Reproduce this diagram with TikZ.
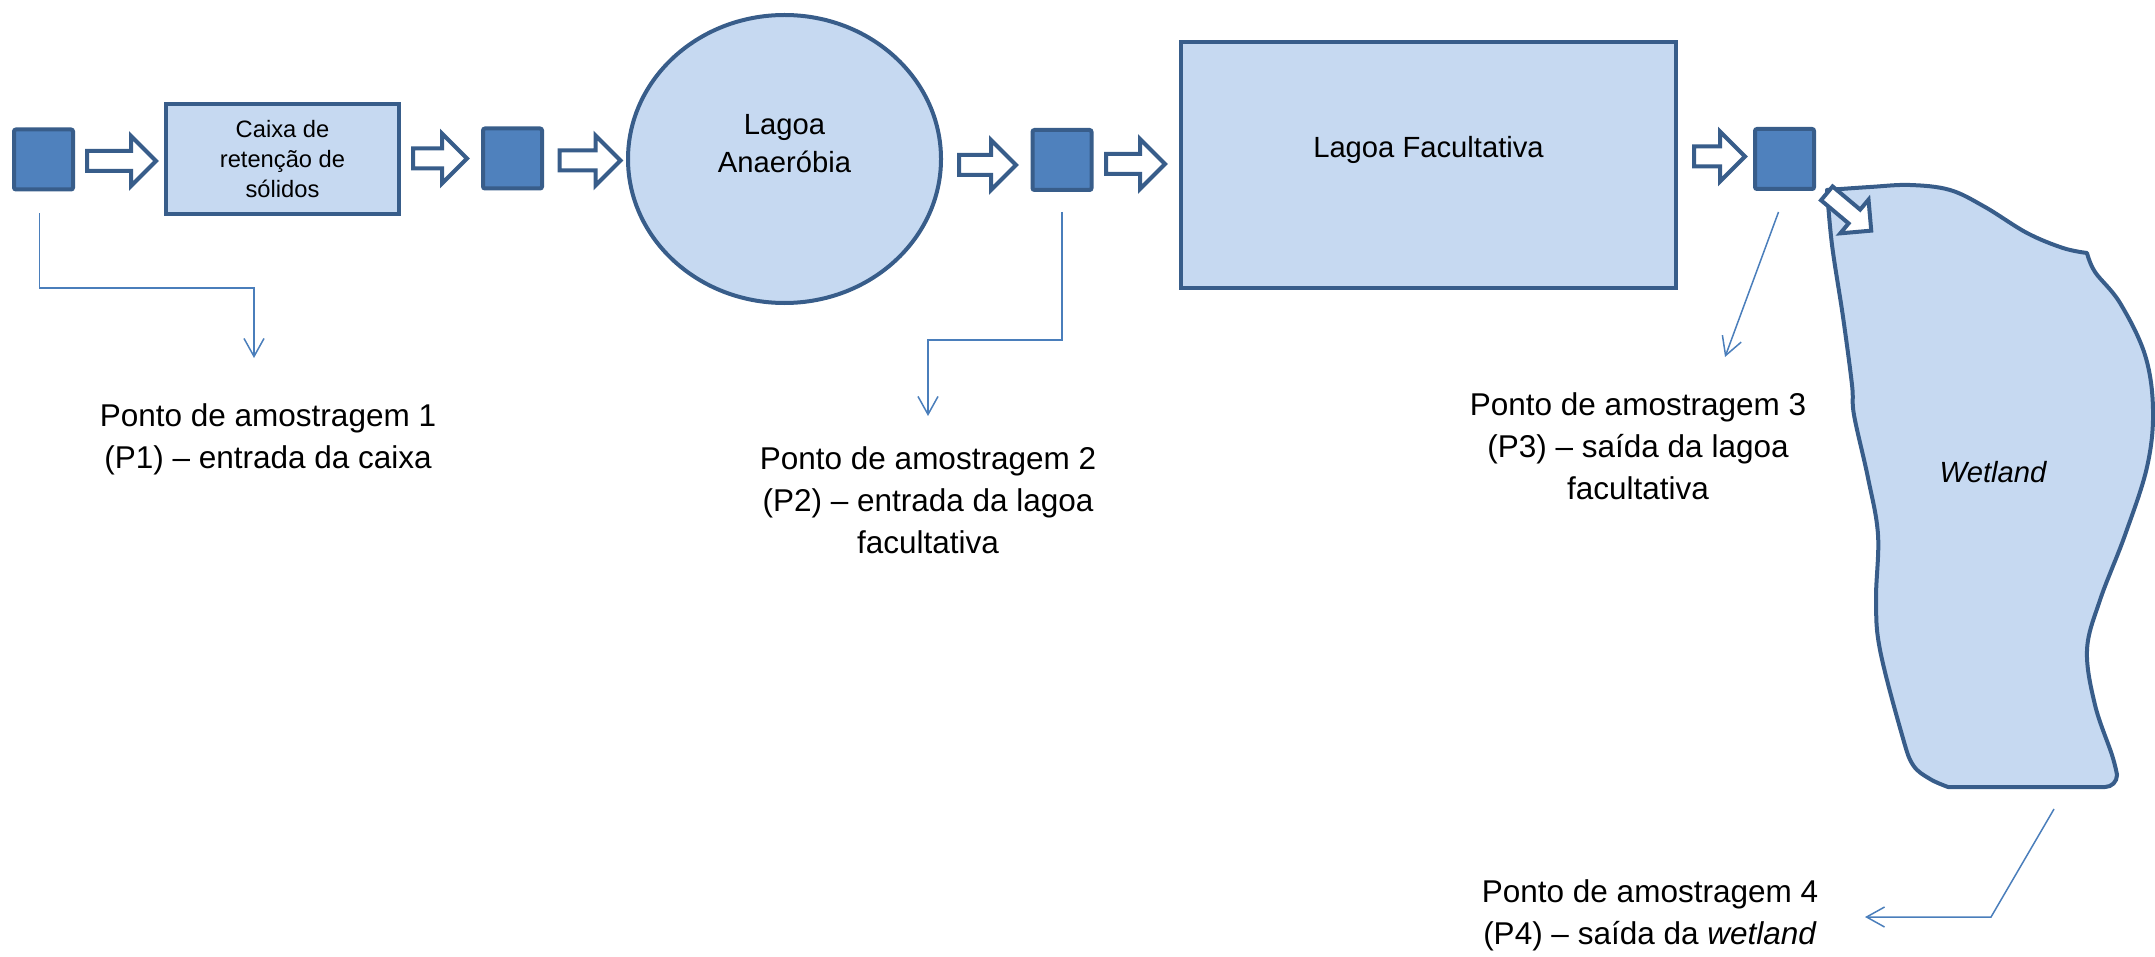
\documentclass[tikz,border=0pt]{standalone}
\usepackage{fontspec}
\setmainfont{Liberation Sans}
\usetikzlibrary{shapes.geometric,arrows.meta}
\definecolor{bordercol}{RGB}{56,93,138}
\definecolor{pointcol}{RGB}{79,129,189}
\definecolor{unitcol}{RGB}{198,217,241}
\definecolor{linecol}{RGB}{74,126,187}
\newcommand{\samplefont}{\fontsize{15.75pt}{21pt}\selectfont}
\newcommand{\pondfont}{\fontsize{14.6pt}{19pt}\selectfont}
\newcommand{\caixafont}{\fontsize{11.85pt}{15pt}\selectfont}
\tikzset{
	pointbox/.style={draw=bordercol, fill=pointcol, line width=2pt, minimum width=29.5pt, minimum height=30pt, rounded corners=1pt, inner sep=0pt},
	unitbox/.style={draw=bordercol, fill=unitcol, line width=2pt, inner sep=0pt},
	arrowline/.style={draw=bordercol, fill=white, line width=2pt},
	pics/flowarrow/.style={code={
		\draw [arrowline] ({-#1/2+2},-10) -- ({#1/2-27},-10) -- ({#1/2-27},-25) -- ({#1/2-2},0)
			-- ({#1/2-27},25) -- ({#1/2-27},10) -- ({-#1/2+2},10) -- cycle;
	}},
	pics/smallarrow/.style={code={
		\draw [arrowline] ({-#1/2+2},-9) -- ({#1/2-24},-9) -- ({#1/2-24},-22) -- ({#1/2-2},0)
			-- ({#1/2-24},22) -- ({#1/2-24},9) -- ({-#1/2+2},9) -- cycle;
	}},
	sample/.style={draw=linecol, line width=0.75pt, -{Straight Barb[length=9pt,width=10pt]}},
	samplelabel/.style={align=center, font=\samplefont}
}

\begin{document}
\begin{tikzpicture}[x=0.5pt,y=-0.5pt]
	\useasboundingbox (0,0) rectangle (2155,957);

	% wetland
	\filldraw [draw=bordercol, fill=unitcol, line width=2pt, line join=round]
		plot [smooth, tension=0.6] coordinates {(1827,190) (1870,187) (1910,185) (1950,190) (1985,207) (2027,233) (2063,248) (2087,253)}
		-- plot [smooth, tension=0.6] coordinates {(2087,253) (2095,272) (2120,303) (2145,355) (2153,410) (2147,467) (2125,535) (2100,600) (2087,650) (2095,705) (2112,755) (2117,775)}
		to [out=90+180, in=0] (2105,787) -- (1948,787)
		-- plot [smooth, tension=0.6] coordinates {(1948,787) (1930,779) (1913,765) (1902,735) (1880,650) (1876,600) (1878,535) (1868,478) (1854,415) (1852,385) (1843,317) (1832,245) (1827,190)}
		-- cycle;
	\node [font=\pondfont\itshape] (wetland) at (1993,472) {Wetland};

	% units
	\node [pointbox] (p1) at (43.5,159.5) {};
	\pic (a1) at (121.5,161) {flowarrow=73};
	\node [unitbox, minimum width=116.5pt, minimum height=55pt, font=\caixafont, align=center] (caixa) at (282.5,159) {Caixa de\\retenção de\\sólidos};
	\pic (a2) at (440,158.5) {flowarrow=58};
	\node [pointbox] (p0) at (512.5,158.5) {};
	\pic (a3) at (590,160.5) {flowarrow=65};
	\node [unitbox, ellipse, minimum width=156.5pt, minimum height=144pt,
		label={[font=\pondfont, align=center, yshift=7.5pt]center:Lagoa\\Anaeróbia}] (anaerobia) at (784.5,159) {};
	\pic (a4) at (987.5,165) {flowarrow=61};
	\node [pointbox] (p2) at (1062,160) {};
	\pic (a5) at (1135.5,164) {flowarrow=63};
	\node [unitbox, minimum width=247.5pt, minimum height=123pt,
		label={[font=\pondfont, yshift=7.5pt]center:Lagoa Facultativa}] (facultativa) at (1428.5,165) {};
	\pic (a6) at (1719.5,156.5) {flowarrow=55};
	\node [pointbox] (p3) at (1784.5,159) {};
	\pic [rotate=-40] (a7) at (1849,212) {smallarrow=62};

	% labels
	\node [samplelabel] (t1) at (268,439) {Ponto de amostragem 1\\(P1) – entrada da caixa};
	\node [samplelabel] (t2) at (928,500) {Ponto de amostragem 2\\(P2) – entrada da lagoa\\facultativa};
	\node [samplelabel] (t3) at (1638,446) {Ponto de amostragem 3\\(P3) – saída da lagoa\\facultativa};
	\node [samplelabel] (t4) at (1650,915) {Ponto de amostragem 4\\(P4) – saída da \textit{wetland}};

	\coordinate (c1) at (254,288);
	\coordinate (e1) at (254,358);
	\coordinate (c2) at (928,340);
	\coordinate (e2) at (928,416);
	\coordinate (e3) at (1725,357);
	\coordinate (w4) at (2054,809);
	\coordinate (c4) at (1991,917);
	\coordinate (e4) at (1865,917);

	% edges
	\draw [sample] ([xshift=-2pt, yshift=-11pt]p1.south) |- (c1) -- (e1);
	\draw [sample] ([yshift=-10pt]p2.south) |- (c2) -- (e2);
	\draw [sample] ([xshift=-3pt, yshift=-10.5pt]p3.south) -- (e3);
	\draw [sample] (w4) -- (c4) -- (e4);
\end{tikzpicture}
\end{document}
